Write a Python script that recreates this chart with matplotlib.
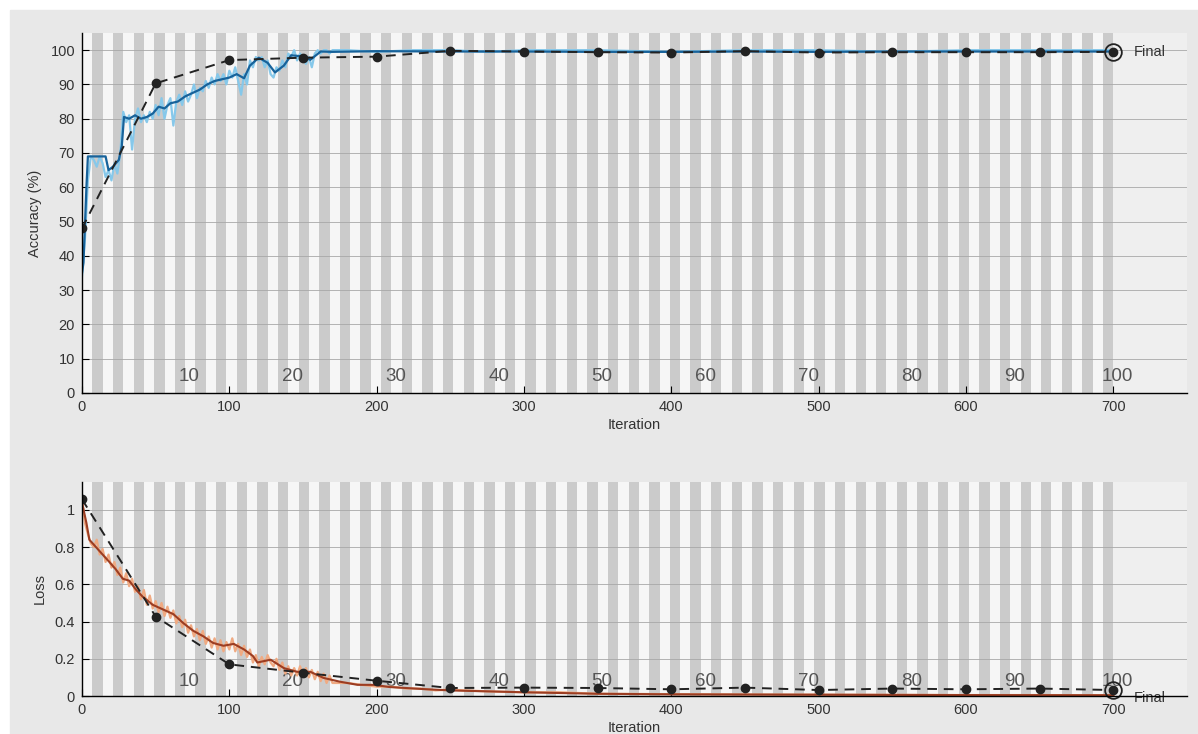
import matplotlib
matplotlib.use("Agg")
import matplotlib.pyplot as plt
from matplotlib.patches import Rectangle

plt.rcParams["font.family"] = ["Liberation Sans", "DejaVu Sans"]

n_epochs = 100
iters_per_epoch = 7
epoch_labels = [10, 20, 30, 40, 50, 60, 70, 80, 90, 100]

# raw (mini-batch) training accuracy, every 2 iterations up to 170, then sparse
acc_raw_it = list(range(0, 172, 2)) + [180, 200, 225, 250, 275, 300, 350, 400,
                                       450, 500, 550, 600, 650, 700]
acc_raw = [34, 45, 62, 69, 68, 66, 69, 67, 63, 65,
           62, 67, 64, 70, 82, 79, 81, 71, 80, 83,
           79, 81, 79, 82, 80, 84, 81, 86, 80, 84,
           86, 78, 85, 87, 84, 88, 85, 87, 90, 86,
           89, 88, 91, 89, 92, 90, 93, 91, 93, 90,
           94, 92, 95, 91, 87, 93, 90, 97, 95, 98,
           97, 98, 95, 97, 93, 92, 95, 94, 97, 95,
           99, 98, 100, 97, 99, 98, 96, 98, 95, 99,
           100, 99, 100, 100, 99, 100,
           100, 99.5, 100, 100, 99.5, 100, 100, 99.5, 100, 100, 99.5, 100, 100, 100]

# smoothed training accuracy
acc_smooth_it = [0, 1, 3, 4, 10, 16, 18, 21, 25, 27, 28.5, 32, 36, 40, 44, 48,
                 52, 56, 60, 65, 70, 75, 80, 85, 90, 95, 100, 105, 110, 114,
                 120, 126, 131, 137, 142, 149, 155, 162, 170, 200, 250, 300,
                 350, 400, 450, 500, 550, 600, 650, 700]
acc_smooth = [35, 38, 60, 69, 69, 69, 65, 66, 68, 72, 80.5, 80, 81, 80, 80.5, 81.5,
              83.5, 83, 84.5, 85, 86.5, 87.5, 88.5, 90, 91, 91.5, 92, 93, 91.8, 95.5,
              97.8, 96.3, 93.5, 95.5, 98.5, 98.2, 97.2, 99.6, 99.5, 99.7, 99.6, 99.6,
              99.5, 99.5, 99.6, 99.5, 99.6, 99.6, 99.6, 99.6]

# validation accuracy
val_it = [0, 50, 100, 150, 200, 250, 300, 350, 400, 450, 500, 550, 600, 650, 700]
val_acc = [48, 90.3, 97.1, 97.8, 98.1, 99.8, 99.6, 99.4, 99.3, 99.7, 99.3, 99.4,
           99.4, 99.4, 99.5]

# raw training loss
loss_raw_it = list(range(0, 172, 2)) + [180, 190, 200, 210, 220, 230, 240, 250,
                                        260, 275, 300, 325, 350, 400, 450, 500,
                                        550, 600, 650, 700]
loss_raw = [1.06, 0.93, 0.87, 0.82, 0.80, 0.84, 0.76, 0.79, 0.72, 0.76,
            0.69, 0.72, 0.65, 0.69, 0.61, 0.66, 0.59, 0.63, 0.56, 0.59,
            0.52, 0.57, 0.49, 0.54, 0.47, 0.51, 0.45, 0.50, 0.43, 0.48,
            0.42, 0.46, 0.39, 0.43, 0.37, 0.41, 0.34, 0.38, 0.32, 0.36,
            0.30, 0.35, 0.28, 0.32, 0.26, 0.31, 0.25, 0.30, 0.24, 0.29,
            0.25, 0.31, 0.24, 0.28, 0.22, 0.27, 0.21, 0.25, 0.18, 0.22,
            0.16, 0.21, 0.17, 0.22, 0.18, 0.16, 0.20, 0.14, 0.18, 0.12,
            0.16, 0.11, 0.15, 0.11, 0.16, 0.11, 0.15, 0.10, 0.14, 0.09,
            0.13, 0.08, 0.12, 0.07, 0.11, 0.07,
            0.07, 0.06, 0.05, 0.05, 0.04, 0.04, 0.03, 0.035, 0.03, 0.025,
            0.02, 0.02, 0.012, 0.01, 0.008, 0.007, 0.006, 0.005, 0.005, 0.004]

# smoothed training loss
loss_smooth_it = [0, 3, 5, 9.5, 14, 18.6, 23, 27.7, 32, 36.8, 41, 48, 55, 62, 69,
                  75.6, 82.5, 89, 96, 103, 110, 116, 119, 128, 137, 146, 155, 164,
                  175, 187, 198, 209, 220, 232, 250, 275, 300, 350, 400, 500, 600,
                  700]
loss_smooth = [1.04, 0.93, 0.84, 0.80, 0.76, 0.72, 0.68, 0.63, 0.62, 0.57, 0.535,
               0.49, 0.465, 0.44, 0.39, 0.35, 0.32, 0.285, 0.27, 0.28, 0.25, 0.215,
               0.18, 0.195, 0.15, 0.13, 0.13, 0.097, 0.077, 0.06, 0.06, 0.048,
               0.043, 0.037, 0.03, 0.025, 0.02, 0.012, 0.009, 0.007, 0.005, 0.004]

# validation loss
val_loss = [1.057, 0.427, 0.17, 0.125, 0.082, 0.043, 0.045, 0.043, 0.036, 0.045,
            0.032, 0.04, 0.036, 0.04, 0.032]

stripe_gray = "#cbcbcb"
stripe_light = "#f6f6f6"
text_col = "#333333"

fig = plt.figure(figsize=(11.98, 7.34), dpi=100, facecolor="white")
fig.patches.append(Rectangle((10 / 1198, 0), 1, 1 - 10 / 734,
                             transform=fig.transFigure, color="#e8e8e8", zorder=-10))

ax1 = fig.add_axes([82 / 1198, 1 - 393 / 734, 1105 / 1198, 360 / 734])
ax2 = fig.add_axes([82 / 1198, 1 - 696 / 734, 1105 / 1198, 214 / 734])


def style_axes(ax, ylim, yticks, yticklabels, label_y):
    ax.set_facecolor("#efefef")
    for e in range(1, n_epochs + 1):
        ax.axvspan((e - 1) * iters_per_epoch, e * iters_per_epoch,
                   color=stripe_gray if e % 2 == 0 else stripe_light,
                   lw=0, zorder=1)
    for e in epoch_labels:
        ax.text(e * iters_per_epoch + 3, label_y, str(e),
                transform=ax.get_xaxis_transform(), ha="center", va="center",
                fontsize=13.5, color="#555555", zorder=2)
    ax.set_xlim(0, 750)
    ax.set_ylim(*ylim)
    ax.set_xticks(range(0, 701, 100))
    ax.set_yticks(yticks)
    ax.set_yticklabels(yticklabels)
    ax.set_axisbelow(False)
    ax.yaxis.grid(True, color="#a8a8a8", lw=0.6)
    ax.xaxis.grid(False)
    ax.tick_params(direction="in", length=5, colors="black", labelcolor=text_col,
                   labelsize=10.5, pad=5)
    for s in ["top", "right"]:
        ax.spines[s].set_visible(False)
    for s in ["left", "bottom"]:
        ax.spines[s].set_linewidth(1.0)
        ax.spines[s].set_zorder(6)
    ax.set_xlabel("Iteration", fontsize=10.5, color=text_col, labelpad=3)


style_axes(ax1, (0, 105), range(0, 101, 10), [str(v) for v in range(0, 101, 10)], 0.045)
ax1.plot(acc_raw_it, acc_raw, color="#86c8ea", lw=1.6, zorder=3)
ax1.plot(acc_smooth_it, acc_smooth, color="#17629a", lw=1.6, zorder=4)
ax1.plot(val_it, val_acc, "--", color="#222222", lw=1.4, dashes=(5, 3.5), zorder=5)
ax1.plot(val_it[:-1], val_acc[:-1], "o", color="#222222", ms=6, zorder=5)
ax1.plot(val_it[-1], val_acc[-1], "o", mfc="none", mec="#222222", ms=12, mew=1.3, zorder=5)
ax1.plot(val_it[-1], val_acc[-1], "o", color="#222222", ms=6, zorder=5)
ax1.text(714, val_acc[-1], "Final", fontsize=10.5, color=text_col, va="center")
ax1.set_ylabel("Accuracy (%)", fontsize=10.5, color=text_col, labelpad=6)

style_axes(ax2, (0, 1.15), [0, 0.2, 0.4, 0.6, 0.8, 1.0],
           ["0", "0.2", "0.4", "0.6", "0.8", "1"], 0.067)
ax2.plot(loss_raw_it, loss_raw, color="#f0aa82", lw=1.6, zorder=3)
ax2.plot(loss_smooth_it, loss_smooth, color="#9c3d22", lw=1.5, zorder=4)
ax2.plot(val_it, val_loss, "--", color="#222222", lw=1.4, dashes=(5, 3.5), zorder=5)
ax2.plot(val_it[:-1], val_loss[:-1], "o", color="#222222", ms=6, zorder=5)
ax2.plot(val_it[-1], val_loss[-1], "o", mfc="none", mec="#222222", ms=12, mew=1.3,
         zorder=5, clip_on=False)
ax2.plot(val_it[-1], val_loss[-1], "o", color="#222222", ms=6, zorder=5, clip_on=False)
ax2.text(714, -0.01, "Final", fontsize=10.5, color=text_col, va="center")
ax2.set_ylabel("Loss", fontsize=10.5, color=text_col, labelpad=6)

fig.savefig("out.png", dpi=100, facecolor=fig.get_facecolor())
plt.close(fig)
